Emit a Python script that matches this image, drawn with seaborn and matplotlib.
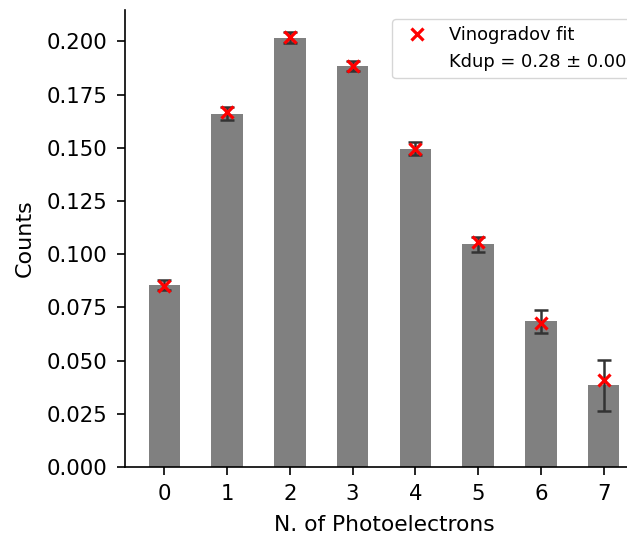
import matplotlib
matplotlib.use("Agg")
import matplotlib.pyplot as plt
import pandas as pd
import seaborn as sns
from matplotlib.lines import Line2D

# Photoelectron multiplicity distribution
n_pe = [0, 1, 2, 3, 4, 5, 6, 7]
counts = [0.0855, 0.1660, 0.2017, 0.1884, 0.1496, 0.1047, 0.0684, 0.0383]
count_err = [0.0023, 0.0030, 0.0026, 0.0025, 0.0029, 0.0035, 0.0053, 0.0120]
# Vinogradov model prediction
fit = [0.0850, 0.1668, 0.2020, 0.1882, 0.1495, 0.1055, 0.0678, 0.0408]
kdup, kdup_err = 0.28, 0.00

sns.set_style("ticks", rc={
    "text.color": "black", "axes.labelcolor": "black",
    "xtick.color": "black", "ytick.color": "black",
    "axes.edgecolor": "black",
})
plt.rcParams["font.family"] = ["DejaVu Sans"]

df = pd.DataFrame({"npe": n_pe, "counts": counts, "err": count_err, "fit": fit})

fig = plt.figure(figsize=(6.27, 5.37), dpi=100)
ax = fig.add_axes([125 / 627, 70 / 537, 518 / 627, 457 / 537])

sns.barplot(data=df, x="npe", y="counts", color="gray", saturation=1,
            width=0.5, errorbar=None, ax=ax, linewidth=0)
ax.errorbar(df["npe"], df["counts"], yerr=df["err"], fmt="none",
            ecolor="#333333", elinewidth=1.8, capsize=4.8, capthick=1.8, zorder=3)
ax.plot(df["npe"], df["fit"], "x", color="red", markersize=9,
        markeredgewidth=2.3, zorder=4)

ax.set_xlim(-0.625, 7.625)
ax.set_ylim(0, 0.2147)
ax.set_yticks([0, 0.025, 0.05, 0.075, 0.1, 0.125, 0.15, 0.175, 0.2])
ax.set_yticklabels([f"{v:.3f}" for v in ax.get_yticks()])
ax.set_xlabel("N. of Photoelectrons", fontsize=15.7, labelpad=7.5)
ax.set_ylabel("Counts", fontsize=16, labelpad=9)
ax.tick_params(labelsize=15.3, length=5.5, width=1.2, pad=7)
for s in ("left", "bottom"):
    ax.spines[s].set_linewidth(1.2)
sns.despine(ax=ax)

handles = [
    Line2D([], [], ls="none", marker="x", color="red", markersize=9, markeredgewidth=2.3),
    Line2D([], [], ls="none"),
]
labels = ["Vinogradov fit", f"Kdup = {kdup:.2f} \u00b1 {kdup_err:.2f}"]
ax.legend(handles, labels, loc="upper right", fontsize=12.9)

fig.savefig("out.png", dpi=100)
